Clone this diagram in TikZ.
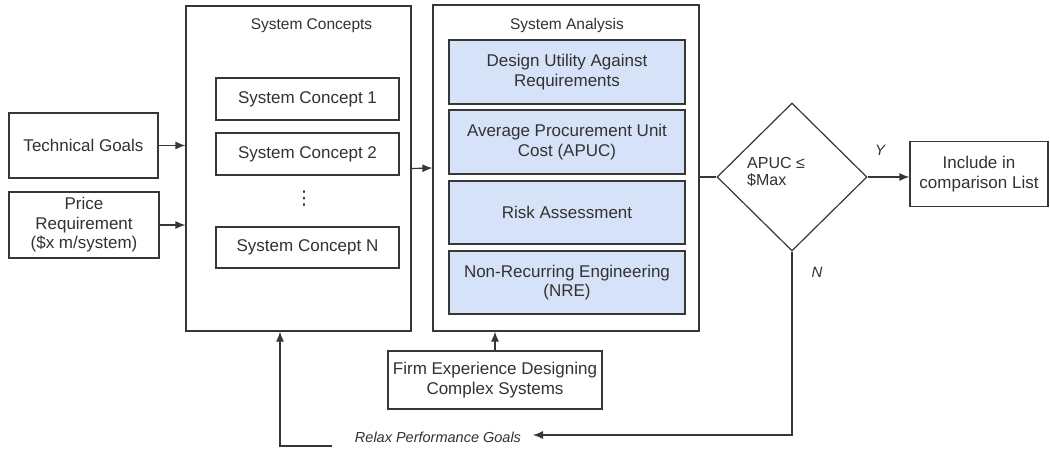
\documentclass[tikz,border=0pt]{standalone}
\usepackage{fontspec}
\setmainfont{Liberation Sans}
\newfontfamily\dejavu{DejaVu Sans}
\usetikzlibrary{arrows.meta,shapes.geometric,calc}
\definecolor{linec}{RGB}{55,55,55}
\definecolor{textc}{RGB}{50,50,50}
\definecolor{bluefill}{RGB}{214,226,247}
\begin{document}
\begin{tikzpicture}[x=1pt,y=-1pt,
  box/.style={draw=linec,line width=1.2pt,text=textc,align=center,inner sep=0pt,
    font=\fontsize{17}{19.5}\selectfont},
  bluebox/.style={box,fill=bluefill},
  bigbox/.style={draw=linec,line width=1.2pt,inner sep=0pt},
  ttl/.style={text=textc,font=\fontsize{15.5}{18}\selectfont,inner sep=0pt},
  lbl/.style={text=textc,font=\fontsize{15}{18}\selectfont\itshape,inner sep=0pt},
  arr/.style={draw=linec,line width=1.2pt,-{Latex[length=10pt,width=8pt]}},
  ln/.style={draw=linec,line width=1.2pt}]
\useasboundingbox (0,0) rectangle (1050,449);
\fill[white] (0,0) rectangle (1050,449);
% left inputs
\node[box,minimum width=149pt,minimum height=65pt] (tech) at (83.5,145.5) {Technical Goals};
\node[box,minimum width=150pt,minimum height=66pt] (price) at (84,225) {Price\\Requirement\\(\$x m/system)};
% system concepts
\node[bigbox,minimum width=225pt,minimum height=325pt] (sc) at (298.5,168.5) {};
\node[ttl] (sctitle) at (311.5,26) {System Concepts};
\node[box,minimum width=183pt,minimum height=42pt] (sc1) at (307.5,99) {System Concept 1};
\node[box,minimum width=183pt,minimum height=42pt] (sc2) at (307.5,154) {System Concept 2};
\node[text=textc,inner sep=0pt,font=\dejavu\fontsize{19}{20}\selectfont] (dots) at (304,199) {⋮};
\node[box,minimum width=183pt,minimum height=41pt] (scn) at (307.5,247.5) {System Concept N};
% system analysis
\node[bigbox,minimum width=266pt,minimum height=326pt] (an) at (566,168) {};
\node[ttl] (antitle) at (567,25) {System Analysis};
\node[bluebox,minimum width=236pt,minimum height=64pt] (a1) at (567,72) {Design Utility Against\\Requirements};
\node[bluebox,minimum width=236pt,minimum height=64pt] (a2) at (567,142) {Average Procurement Unit\\Cost (APUC)};
\node[bluebox,minimum width=236pt,minimum height=63pt] (a3) at (567,212.5) {Risk Assessment};
\node[bluebox,minimum width=236pt,minimum height=63pt] (a4) at (567,282.5) {Non-Recurring Engineering\\(NRE)};
% firm experience
\node[box,minimum width=214pt,minimum height=58pt] (firm) at (495,380) {Firm Experience Designing\\Complex Systems};
% decision
\node[draw=linec,line width=1.2pt,diamond,minimum width=150pt,minimum height=148pt,inner sep=0pt] (dia) at (792,177) {};
\node[text=textc,align=left,anchor=west,inner sep=0pt,font=\fontsize{16}{17.5}\selectfont] (dtext) at (747,172) {APUC ≤\\\$Max};
\node[box,minimum width=138pt,minimum height=65pt] (inc) at (979,174) {Include in\\comparison List};
\node[lbl] (ylab) at (880,150) {Y};
\node[lbl] (nlab) at (817,272) {N};
\node[lbl,font=\fontsize{14.5}{18}\selectfont\itshape] (relax) at (438,437) {Relax Performance Goals};
% connectors
\draw[arr] (tech.east) -- (tech.east -| sc.west);
\draw[arr] (price.east) -- (price.east -| sc.west);
\draw[arr] (sc.east) -- (an.west);
\draw[ln] (dia.west -| an.east) -- (dia.west);
\draw[arr] (dia.east) -- (dia.east -| inc.west);
\draw[arr] (firm.north) -- (firm.north |- an.south);
\coordinate (rx) at (533,435);
\draw[arr] (dia.south) |- (rx);
\coordinate (l1) at (332,446);
\coordinate (l2) at (280,446);
\draw[arr] (l1) -- (l2) -- (l2 |- sc.south);
\end{tikzpicture}
\end{document}
